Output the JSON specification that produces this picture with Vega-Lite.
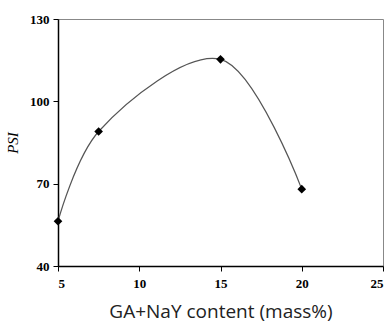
{
  "$schema": "https://vega.github.io/schema/vega-lite/v6.json",
  "width": 325,
  "height": 247,
  "autosize": "none",
  "padding": {"left": 58, "top": 19, "right": 7, "bottom": 57},
  "background": "white",
  "config": {"view": {"stroke": "#888888", "strokeWidth": 1}},
  "data": {"values": [
    {"x": 5, "psi": 56.3},
    {"x": 7.5, "psi": 89},
    {"x": 15, "psi": 115.3},
    {"x": 20, "psi": 68}
  ]},
  "encoding": {
    "x": {"field": "x", "type": "quantitative",
      "scale": {"domain": [5, 25], "nice": false, "zero": false},
      "axis": {"values": [5, 10, 15, 20, 25], "grid": false, "domainColor": "#000000", "domainWidth": 1.5,
        "tickColor": "#000000", "tickSize": 5, "labelFont": "Liberation Serif", "labelFontWeight": "bold",
        "labelFontSize": 13, "labelColor": "#000000", "labelPadding": 6,
        "title": "GA+NaY content (mass%)", "titleFont": "Open Sans", "titleFontWeight": "normal",
        "titleFontSize": 19, "titleColor": "#222222", "titlePadding": 12}},
    "y": {"field": "psi", "type": "quantitative",
      "scale": {"domain": [40, 130], "nice": false, "zero": false},
      "axis": {"values": [40, 70, 100, 130], "grid": false, "domainColor": "#000000", "domainWidth": 1.5,
        "tickColor": "#000000", "tickSize": 5, "labelFont": "Liberation Serif", "labelFontWeight": "bold",
        "labelFontSize": 13, "labelColor": "#000000", "labelPadding": 4,
        "title": "PSI", "titleFont": "Liberation Serif", "titleFontStyle": "italic", "titleFontWeight": "normal",
        "titleFontSize": 15, "titleColor": "#000000", "titlePadding": 9}}
  },
  "layer": [
    {"mark": {"type": "line", "interpolate": "catmull-rom", "color": "#555555", "strokeWidth": 1.2}},
    {"mark": {"type": "point", "shape": "diamond", "filled": true, "color": "#000000", "size": 75, "opacity": 1}}
  ]
}
